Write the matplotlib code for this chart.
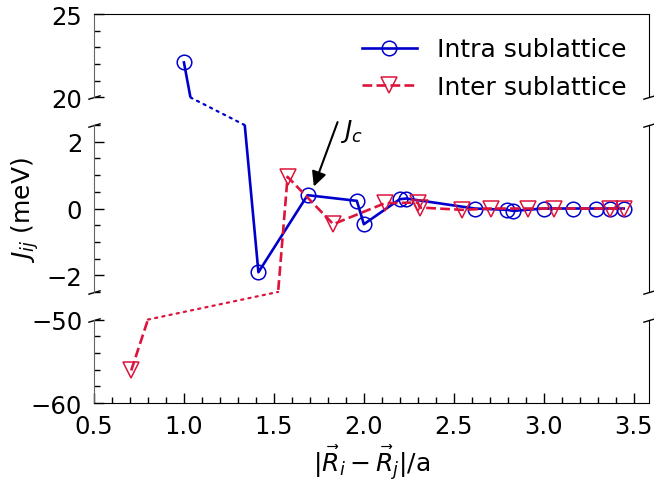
import matplotlib as mpl
mpl.use("Agg")
import matplotlib.pyplot as plt
from matplotlib.patches import ConnectionPatch
from matplotlib.ticker import MultipleLocator

# distances |Ri - Rj|/a and couplings (meV)
intra_x = [1.0, 1.414, 1.687, 1.961, 2.0, 2.2, 2.236, 2.617, 2.796, 2.83,
           3.0, 3.163, 3.289, 3.367, 3.444]
intra_y = [22.1, -1.91, 0.40, 0.23, -0.47, 0.28, 0.30, 0.0, -0.04, -0.07,
           0.0, 0.0, 0.0, 0.0, 0.0]

inter_x = [0.707, 1.576, 1.830, 2.117, 2.30, 2.311, 2.548, 2.709, 2.913,
           3.057, 3.367, 3.444]
inter_y = [-56.1, 0.95, -0.47, 0.16, 0.18, 0.03, -0.04, 0.0, 0.0, 0.0,
           0.0, 0.0]

jc_point = (1.722, 0.66)

BLUE = "mediumblue"
RED = "#dc143c"
FS = 17.5


def crossing(x0, y0, x1, y1, yb):
    return x0 + (x1 - x0) * (yb - y0) / (y1 - y0)


def style_axis(ax, ylim, major, minor, top, bottom):
    ax.set_xlim(0.5, 3.585)
    ax.set_ylim(*ylim)
    ax.yaxis.set_major_locator(MultipleLocator(major))
    ax.yaxis.set_minor_locator(MultipleLocator(minor))
    ax.xaxis.set_major_locator(MultipleLocator(0.5))
    ax.xaxis.set_minor_locator(MultipleLocator(0.1))
    ax.tick_params(which="both", direction="in", labelsize=FS,
                   right=False, top=False, bottom=bottom,
                   labelbottom=bottom)
    ax.tick_params(axis="y", which="both", pad=8.5)
    ax.tick_params(axis="x", which="both", pad=8)
    ax.tick_params(which="major", length=7, width=1)
    ax.tick_params(which="minor", length=4, width=1)
    ax.spines["left"].set_color("0.4")
    ax.spines["top"].set_visible(top)
    ax.spines["bottom"].set_visible(bottom)

    # break marks
    kw = dict(marker=[(-1, -0.3), (1, 0.3)], markersize=9, linestyle="none",
              color="k", mec="k", mew=1, clip_on=False,
              transform=ax.transAxes)
    if not top:
        ax.plot([0, 1], [1, 1], **kw)
    if not bottom:
        ax.plot([0, 1], [0, 0], **kw)


def main():
    fig = plt.figure(figsize=(6.54, 4.85), dpi=100)
    left, width = 0.1437, 0.8487
    ax_top = fig.add_axes([left, 0.797, width, 0.172])
    ax_mid = fig.add_axes([left, 0.396, width, 0.344])
    ax_bot = fig.add_axes([left, 0.167, width, 0.172])

    style_axis(ax_top, (20, 25), 5, 1, True, False)
    style_axis(ax_mid, (-2.5, 2.5), 2, 0.5, False, False)
    style_axis(ax_bot, (-60, -50), 10, 2, False, True)

    for ax in (ax_top, ax_mid, ax_bot):
        ax.plot(intra_x, intra_y, "-o", color=BLUE, lw=1.9, ms=10.5,
                mfc="none", mew=1.1, label="Intra sublattice")
        ax.plot(inter_x, inter_y, "--v", color=RED, lw=1.9, ms=11,
                mfc="none", mew=1.1, label="Inter sublattice")

    # dotted links across the breaks
    dots = (0, (1, 2.3))
    xa = crossing(intra_x[0], intra_y[0], intra_x[1], intra_y[1], 20)
    xb = crossing(intra_x[0], intra_y[0], intra_x[1], intra_y[1], 2.5)
    fig.add_artist(ConnectionPatch(xyA=(xa, 20), coordsA=ax_top.transData,
                                   xyB=(xb, 2.5), coordsB=ax_mid.transData,
                                   color=BLUE, ls=dots, lw=1.6))
    xa = crossing(inter_x[0], inter_y[0], inter_x[1], inter_y[1], -50)
    xb = crossing(inter_x[0], inter_y[0], inter_x[1], inter_y[1], -2.5)
    fig.add_artist(ConnectionPatch(xyA=(xa, -50), coordsA=ax_bot.transData,
                                   xyB=(xb, -2.5), coordsB=ax_mid.transData,
                                   color=RED, ls=dots, lw=1.6))

    ax_top.legend(loc="upper right", bbox_to_anchor=(1.0, 0.99),
                  frameon=False, fontsize=18, handlelength=2.2,
                  handletextpad=0.8, labelspacing=0.55)

    ax_mid.annotate("", xy=jc_point, xytext=(1.854, 2.59),
                    arrowprops=dict(arrowstyle="-|>", color="k", lw=1.5,
                                    shrinkA=0, shrinkB=0, mutation_scale=22),
                    annotation_clip=False)
    ax_mid.text(1.87, 2.33, "$J_c$", fontsize=18, va="center", ha="left")

    ax_mid.set_ylabel("$J_{ij}$ (meV)", fontsize=18, labelpad=4)
    ax_bot.set_xlabel(r"$|\vec{R}_i - \vec{R}_j|$/a", fontsize=18,
                      labelpad=3)

    plt.savefig("out.png", dpi=100)


if __name__ == "__main__":
    main()
